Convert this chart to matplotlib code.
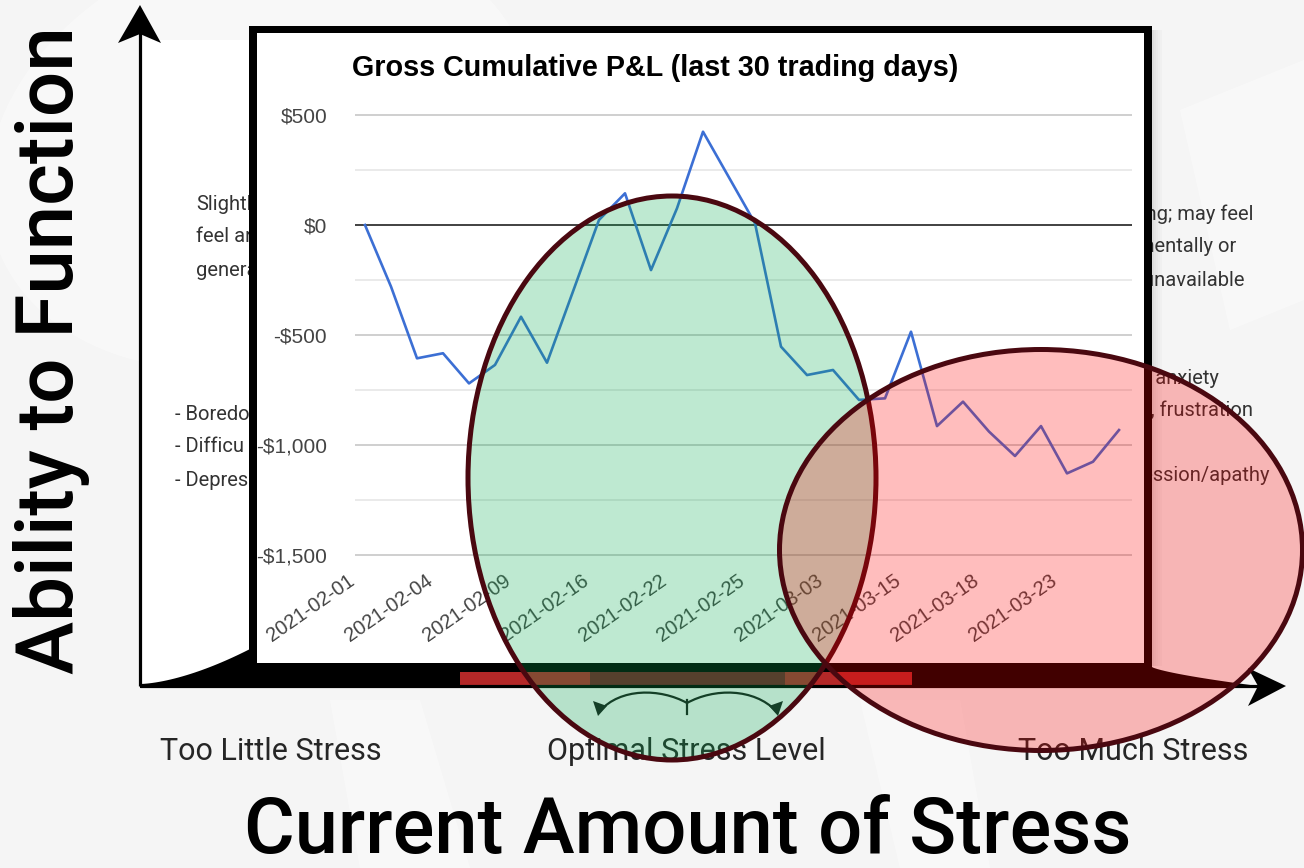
import matplotlib.pyplot as plt
from matplotlib.patches import Ellipse, Rectangle, Polygon, PathPatch
from matplotlib.path import Path
import numpy as np

# P&L data (cumulative, $) for the last 30 trading days
pnl = [0, -280, -606, -583, -720, -636, -417, -626, -302, 23,
       144, -205, 76, 424, 216, 8, -553, -682, -659, -795,
       -788, -485, -914, -803, -939, -1050, -914, -1129, -1076, -932]
tick_labels = ['2021-02-01', '2021-02-04', '2021-02-09', '2021-02-16', '2021-02-22',
               '2021-02-25', '2021-03-03', '2021-03-15', '2021-03-18', '2021-03-23']
y_ticks = [500, 0, -500, -1000, -1500]
y_tick_labels = ['$500', '$0', '-$500', '-$1,000', '-$1,500']
chart_title = 'Gross Cumulative P&L (last 30 trading days)'

# stress diagram texts (only the parts that peek out from behind the chart)
stress_levels = ['Too Little Stress', 'Optimal Stress Level', 'Too Much Stress']
left_notes = ['Slightly', 'feel an', 'generally']
left_list = ['- Boredom', '- Difficu', '- Depress']
right_notes = ['Trouble sleeping; may feel', 'drained mentally or', 'emotionally unavailable']
right_list = ['- Worry and anxiety', '- Irritability, frustration', '- Burnout', '- Depression/apathy']

W, H = 1304, 868
fig = plt.figure(figsize=(W / 100, H / 100), dpi=100)
fig.patch.set_facecolor('#f5f5f5')

# background layer in pixel coordinates
bg = fig.add_axes([0, 0, 1, 1], zorder=0)
bg.set_xlim(0, W)
bg.set_ylim(H, 0)
bg.axis('off')

# faint white swooshes in the background
bg.add_patch(Polygon([(140, 40), (250, 40), (250, 685), (140, 685)], color='white', lw=0, zorder=0.5))
bg.add_patch(Ellipse((260, 150), 560, 420, angle=-20, color='white', alpha=0.4, lw=0, zorder=0.5))
bg.add_patch(Polygon([(1180, 110), (1304, 60), (1304, 300), (1230, 330)], color='white', alpha=0.4, lw=0, zorder=0.5))
bg.add_patch(Polygon([(330, 700), (420, 700), (470, 868), (360, 868)], color='white', alpha=0.4, lw=0, zorder=0.5))
bg.add_patch(Polygon([(860, 700), (960, 700), (990, 868), (900, 868)], color='white', alpha=0.4, lw=0, zorder=0.5))

# big axis titles
bg.text(52, 350, 'Ability to Function', rotation=90, ha='center', va='center',
        fontsize=57.5, family='Roboto', weight='medium', color='black')
bg.text(688, 853, 'Current Amount of Stress', ha='center', va='baseline',
        fontsize=56, family='Roboto', weight='medium', color='black')

for x, s in zip([271, 686, 1133], stress_levels):
    bg.text(x, 752, s, ha='center', va='center', fontsize=22, family='Roboto', color='#262626')

for i, s in enumerate(left_notes):
    bg.text(196, 204 + 33 * i, s, ha='left', va='center', fontsize=14.5, family='Roboto',
            color='#333333', zorder=1)
for i, s in enumerate(left_list):
    bg.text(175, 414 + 33 * i, s, ha='left', va='center', fontsize=14.5, family='Roboto',
            color='#333333', zorder=1)
for i, s in enumerate(right_notes):
    bg.text([1253, 1236, 1245][i], 214 + 33 * i, s, ha='right', va='center', fontsize=14.5,
            family='Roboto', color='#333333', zorder=1)
for i, s in enumerate(right_list):
    bg.text([1219, 1253, 1151, 1270][i], 378 + 32.5 * i, s, ha='right', va='center', fontsize=14.5,
            family='Roboto', color='#333333', zorder=1)

# black area under the stress curve + axis bar
xl = np.linspace(140, 252, 30)
yl = 684 - 36 * ((xl - 140) / 112) ** 1.6
xr = np.linspace(1150, 1258, 30)
yr = 666 + 20 * ((xr - 1150) / 108) ** 0.7
curve = list(zip(xl, yl)) + [(252, 600), (1150, 600)] + list(zip(xr, yr)) + [(1258, 688), (140, 688)]
bg.add_patch(Polygon(curve, color='black', lw=0, zorder=2))
bg.add_patch(Rectangle((460, 672), 452, 16, color='#b42828', lw=0, zorder=2))
bg.add_patch(Rectangle((590, 672), 195, 16, color='#711c22', lw=0, zorder=2))

# axis arrows
bg.plot([140, 140], [30, 686], color='black', lw=2.3, solid_capstyle='butt', zorder=2)
bg.plot([140, 1262], [686, 686], color='black', lw=2.3, solid_capstyle='butt', zorder=2)
bg.add_patch(Polygon([(140, 5), (161, 43), (140, 34), (118, 43)], color='black', lw=0, zorder=2))
bg.add_patch(Polygon([(1286, 686), (1248, 706), (1258, 686), (1248, 668)], color='black', lw=0, zorder=2))

# curly double arrow under the optimal band
cv = Path([(600, 711), (620, 688), (660, 688), (687, 703),
           (714, 688), (754, 688), (776, 711)],
          [Path.MOVETO, Path.CURVE4, Path.CURVE4, Path.CURVE4, Path.CURVE4, Path.CURVE4, Path.CURVE4])
bg.add_patch(PathPatch(cv, fill=False, color='#1a1a1a', lw=1.6, zorder=2))
bg.plot([687, 687], [700, 714], color='#1a1a1a', lw=1.6, zorder=2)
bg.add_patch(Polygon([(593, 701), (607, 706), (598, 716)], color='#1a1a1a', lw=0, zorder=2))
bg.add_patch(Polygon([(783, 701), (769, 706), (778, 716)], color='#1a1a1a', lw=0, zorder=2))

# chart frame with shadow
for k, a in enumerate([0.10, 0.07, 0.05, 0.03, 0.02]):
    bg.add_patch(Rectangle((1152 + 2 * k, 30), 2, 636, color='black', alpha=a, lw=0, zorder=4))
bg.add_patch(Rectangle((249, 26), 903, 642, color='black', lw=0, zorder=5))
bg.add_patch(Rectangle((257, 33), 887, 630, color='white', lw=0, zorder=5))
bg.text(352, 68, chart_title, ha='left', va='center', fontsize=20.7,
        family='Liberation Sans', weight='bold', color='black', zorder=6)

# the P&L chart itself
ax = fig.add_axes([355 / W, 1 - 560 / H, (1132 - 355) / W, 450 / H], zorder=1)
ax.patch.set_alpha(0)
ax.set_xlim(-10 / 26, 29.5)
ax.set_ylim(-1500 - 5 / 0.22, 500 + 5 / 0.22)
for v in np.arange(-1500, 501, 250):
    if v == 0:
        continue
    ax.axhline(v, color='#cccccc' if v % 500 == 0 else '#e8e8e8', lw=1.3, zorder=1)
ax.axhline(0, color='#333333', lw=1.3, zorder=2)
ax.plot(range(len(pnl)), pnl, color='#3c6fd4', lw=1.9, zorder=3)
ax.set_yticks(y_ticks)
ax.set_yticklabels(y_tick_labels, family='Liberation Sans', fontsize=15, color='#444444')
ax.set_xticks([])
for i, lab in zip(range(0, len(pnl), 3), tick_labels):
    ax.annotate(lab, xy=(i, 0), xycoords=('data', 'axes fraction'), xytext=(-18, -11),
                textcoords='offset pixels', rotation=35, ha='right', va='top',
                rotation_mode='anchor', family='Liberation Sans', fontsize=14.5,
                color='#444444', annotation_clip=False)
ax.tick_params(axis='y', length=0, pad=20)
for sp in ax.spines.values():
    sp.set_visible(False)

# overlay ellipses
ov = fig.add_axes([0, 0, 1, 1], zorder=2)
ov.set_xlim(0, W)
ov.set_ylim(H, 0)
ov.axis('off')
ov.patch.set_alpha(0)
ov.add_patch(Ellipse((672, 478), 408, 564, facecolor=(0.02, 0.67, 0.31, 0.26),
                     edgecolor='#4a0810', lw=3.6))
ov.add_patch(Ellipse((1041, 550), 523, 401, facecolor=(1.0, 0.0, 0.0, 0.26),
                     edgecolor='#4a0810', lw=3.6))

fig.savefig('out.png', dpi=100, facecolor=fig.get_facecolor())
